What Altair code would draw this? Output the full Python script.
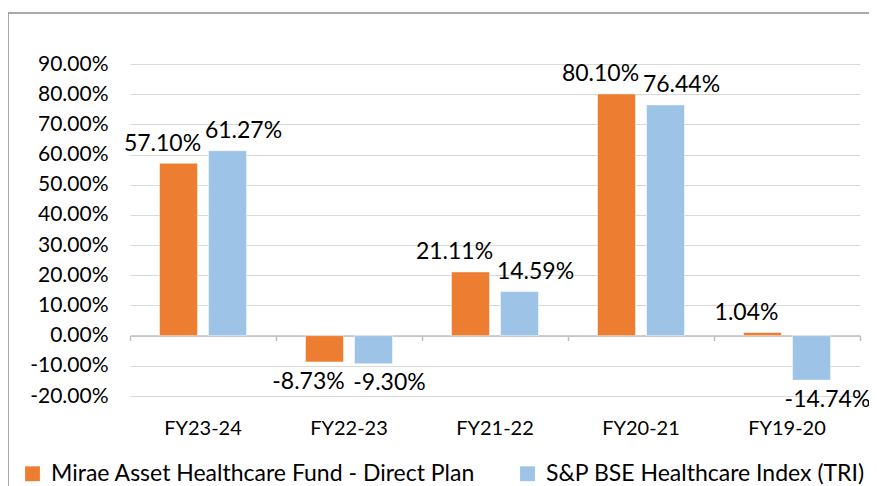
import altair as alt
import pandas as pd

categories = ["FY23-24", "FY22-23", "FY21-22", "FY20-21", "FY19-20"]
series_names = ["Mirae Asset Healthcare Fund - Direct Plan", "S&P BSE Healthcare Index (TRI)"]
fund_values = [57.10, -8.73, 21.11, 80.10, 1.04]
index_values = [61.27, -9.30, 14.59, 76.44, -14.74]
y_ticks = [-20, -10, 0, 10, 20, 30, 40, 50, 60, 70, 80, 90]
colors = ["#ED7D31", "#9DC3E6"]

rows = []
for c, a, b in zip(categories, fund_values, index_values):
    rows.append({"cat": c, "series": series_names[0], "value": a, "lbl": f"{a:.2f}%"})
    rows.append({"cat": c, "series": series_names[1], "value": b, "lbl": f"{b:.2f}%"})
df = pd.DataFrame(rows)

FONT = "Lato"

x_axis = alt.Axis(
    title=None,
    orient="bottom",
    offset=-60.4,
    domainColor="#BFBFBF",
    domainWidth=1.5,
    tickColor="#BFBFBF",
    tickWidth=1.5,
    tickSize=5,
    bandPosition=1,
    tickExtra=True,
    labelPadding=78,
    labelAngle=0,
    labelFont=FONT,
    labelFontSize=20,
    labelColor="#000000",
    grid=False,
)
x_scale = alt.Scale(paddingInner=0, paddingOuter=0)
y_axis = alt.Axis(
    title=None,
    values=y_ticks,
    labelExpr="(datum.value < 0 ? '-' : '') + format(abs(datum.value), '.2f') + '%'",
    labelOverlap=False,
    domain=False,
    ticks=False,
    labelPadding=22,
    labelFont=FONT,
    labelFontSize=21,
    labelColor="#000000",
    gridColor="#D9D9D9",
    gridWidth=1.2,
)
y_scale = alt.Scale(domain=[-20, 90], nice=False, zero=False)
xoff_enc = alt.XOffset(
    "series:N",
    sort=series_names,
    scale=alt.Scale(domain=series_names, paddingInner=0.2245, paddingOuter=0.602),
)

base = alt.Chart(df)

bars = base.mark_bar(stroke="#FFFFFF", strokeWidth=0.5).encode(
    x=alt.X("cat:N", sort=categories, scale=x_scale, axis=x_axis),
    xOffset=xoff_enc,
    y=alt.Y("value:Q", scale=y_scale, axis=y_axis),
    color=alt.Color(
        "series:N",
        sort=series_names,
        scale=alt.Scale(domain=series_names, range=colors),
        legend=alt.Legend(
            title=None,
            orient="none",
            legendX=-109,
            legendY=398,
            direction="horizontal",
            columns=2,
            symbolType="square",
            symbolSize=220,
            symbolStrokeWidth=0,
            labelFont=FONT,
            labelFontSize=23,
            labelColor="#000000",
            labelLimit=700,
            labelOffset=7,
            columnPadding=40,
            symbolOffset=0,
            padding=0,
        ),
    ),
)


def label_layer(name, dx):
    return (
        base.transform_filter(alt.datum.series == name)
        .transform_calculate(
            ly="datum.value >= 0 ? datum.value + 6.5 : datum.value - 6.5",
        )
        .mark_text(font=FONT, fontSize=23, color="#000000", baseline="middle", dx=dx)
        .encode(
            x=alt.X("cat:N", sort=categories, scale=x_scale, axis=x_axis),
            xOffset=xoff_enc,
            y=alt.Y("ly:Q", scale=y_scale, axis=y_axis),
            text="lbl:N",
        )
    )


labels_a = label_layer(series_names[0], -16)
labels_b = label_layer(series_names[1], 16)

frame_df = pd.DataFrame({"k": [0]})
frame_top = alt.Chart(frame_df).mark_rule(color="#8C8C8C", strokeWidth=1.5).encode(
    x=alt.value(-122), x2=alt.value(739), y=alt.value(-51)
)
frame_left = alt.Chart(frame_df).mark_rule(color="#8C8C8C", strokeWidth=1.5).encode(
    x=alt.value(-122), y=alt.value(-51), y2=alt.value(440)
)

chart = (
    alt.layer(bars, labels_a, labels_b, frame_top, frame_left)
    .properties(
        width=730,
        height=332,
        padding={"left": 122, "top": 56, "right": 9, "bottom": 90},
        autosize=alt.AutoSizeParams(type="none"),
        background="#FFFFFF",
    )
    .configure_view(strokeWidth=0)
)

chart.save("out.html", embed_options={"renderer": "svg", "actions": False})
